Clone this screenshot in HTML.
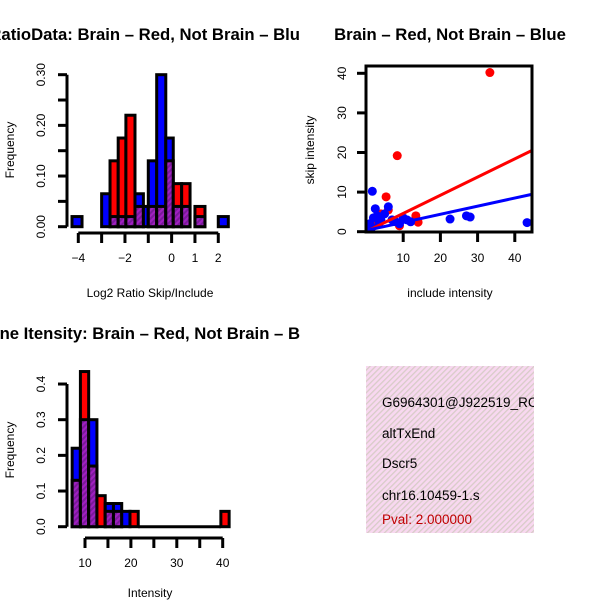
<!DOCTYPE html>
<html><head><meta charset="utf-8"><style>
html,body{margin:0;padding:0;background:#fff;}
svg{display:block;font-family:"Liberation Sans",sans-serif;}
</style></head><body>
<svg id="c" width="600" height="600" viewBox="0 0 600 600" xmlns="http://www.w3.org/2000/svg">
<defs>
<pattern id="purp" width="4" height="4" patternUnits="userSpaceOnUse" patternTransform="rotate(45)">
<rect width="4" height="4" fill="#a020c0"/><rect width="2" height="4" fill="#7a1a9a"/></pattern>
<pattern id="pink" width="4" height="4" patternUnits="userSpaceOnUse" patternTransform="rotate(45)">
<rect width="4" height="4" fill="#f8d8f0"/><rect width="1.3" height="4" fill="#d8ccc8"/></pattern>
<clipPath id="scClip"><rect x="366" y="66" width="166" height="166"/></clipPath>
<clipPath id="boxClip"><rect x="366" y="366" width="168" height="167"/></clipPath>
</defs>
<g id="p1"></g>
<g id="p2"></g>
<g id="p3"></g>
<g>
<rect x="366" y="366" width="168" height="167" fill="url(#pink)"/>
<g clip-path="url(#boxClip)" font-size="13.5">
<text x="382" y="407">G6964301@J922519_RC</text>
<text x="382" y="438">altTxEnd</text>
<text x="382" y="468">Dscr5</text>
<text x="382" y="500">chr16.10459-1.s</text>
<text x="382" y="524" fill="#c00000">Pval: 2.000000</text>
</g></g>
</svg>
<script>
// ---- Plot 1 data ----
const r1Left=[-4.27,-3.0,-2.64,-2.29,-1.96,-1.57,-1.21,-1.0,-0.64,-0.25,0.07,0.43,1.0,2.0];
const r1Right=[-3.84,-2.64,-2.29,-1.96,-1.57,-1.21,-1.0,-0.64,-0.25,0.07,0.43,0.79,1.43,2.43];
const r1Blue=[0.02,0.065,0.02,0.02,0.02,0.065,0.04,0.13,0.30,0.175,0.04,0.04,0.02,0.02];
const r1Red=[0,0,0.13,0.175,0.22,0.04,0,0.04,0.04,0.13,0.085,0.085,0.04,0];
const r1XTicks=[-4,-3,-2,-1,0,1,2];
const r1XLabels=["−4","","−2","","0","1","2"];
const r1YTicks=[0,0.05,0.10,0.15,0.20,0.25,0.30];
const r1YLabels=["0.00","","0.10","","0.20","","0.30"];
// ---- Plot 2 data ----
const redX=[33.3,8.4,5.4,13.4,14,9,4,3,6,2];
const redY=[40.2,19.2,8.8,4,2.4,1.5,4.5,3,5.5,1.5];
const blueX=[1.7,43.3,22.6,27,28,6,2.5,2,3,1,5,10,11,8,12,4,7,1.5,3.5,9];
const blueY=[10.2,2.3,3.2,4,3.7,6.3,5.8,3.5,4,2,4.5,3.5,3,2.5,2.5,3,3,1,2,2];
const redFit=[0,0.46];
const blueFit=[0.3,0.205];
const scXTicks=[10,20,30,40];
const scYTicks=[0,10,20,30,40];
// ---- Plot 3 data ----
const r3Left=[7.2,9.0,10.8,12.6,14.4,16.2,18.0,19.8,39.6];
const r3Blue=[0.22,0.30,0.30,0,0.065,0.065,0.043,0,0];
const r3Red=[0.13,0.435,0.17,0.087,0.043,0.043,0,0.043,0.043];
const r3Width=1.8;
const r3XTicks=[10,15,20,25,30,35,40];
const r3XLabels=["10","","20","","30","","40"];
const r3YTicks=[0,0.1,0.2,0.3,0.4];
const r3YLabels=["0.0","0.1","0.2","0.3","0.4"];

const NS="http://www.w3.org/2000/svg";
function mk(parent,tag,attrs,txt){const e=document.createElementNS(NS,tag);for(const k in attrs)e.setAttribute(k,attrs[k]);if(txt!==undefined)e.textContent=txt;parent.appendChild(e);return e;}

function histogram(g,left,right,blue,red,xs,ys){
  for(let i=0;i<left.length;i++){
    const x0=xs(left[i]),x1=xs(right[i]),b=blue[i],r=red[i];
    const hi=Math.max(b,r),lo=Math.min(b,r);
    const col=b>=r?"#0000ff":"#ff0000";
    const bar=mk(g,"rect",{x:x0,y:ys(hi),width:x1-x0,height:ys(0)-ys(hi),fill:col,stroke:"#000","stroke-width":3});
    
    
    if(lo>0){
      const ov=mk(g,"rect",{x:x0,y:ys(lo),width:x1-x0,height:ys(0)-ys(lo),fill:"url(#purp)",stroke:"#000","stroke-width":3});
      
      
    }
  }
}
function yAxis(g,x,ys,ticks,labels,y0,y1,lx){
  mk(g,"line",{x1:x,x2:x,y1:y0,y2:y1,stroke:"#000","stroke-width":3});
  ticks.forEach((t,i)=>{
    mk(g,"line",{x1:x-9,x2:x,y1:ys(t),y2:ys(t),stroke:"#000","stroke-width":3});
    if(labels[i]){const tx=mk(g,"text",{x:lx,y:ys(t),"font-size":12,"text-anchor":"middle",transform:`rotate(-90 ${lx} ${ys(t)})`},labels[i]);
    
    }
  });
}
function xAxis(g,y,xs,ticks,labels,ly){
  mk(g,"line",{x1:xs(ticks[0]),x2:xs(ticks[ticks.length-1]),y1:y,y2:y,stroke:"#000","stroke-width":3});
  ticks.forEach((t,i)=>{
    mk(g,"line",{x1:xs(t),x2:xs(t),y1:y,y2:y+10,stroke:"#000","stroke-width":3});
    if(labels[i]){const tx=mk(g,"text",{x:xs(t),y:ly,"font-size":12,"text-anchor":"middle"},labels[i]);
    
    }
  });
}

// Plot 1
(function(){
  const g=document.getElementById("p1");
  const xs=v=>78.3+(v+4)*23.33, ys=v=>226.7-v*506.7;
  histogram(g,r1Left,r1Right,r1Blue,r1Red,xs,ys);
  yAxis(g,67,ys,r1YTicks,r1YLabels,ys(0),ys(0.30),45);
  xAxis(g,233,xs,r1XTicks,r1XLabels,262);
  let t=mk(g,"text",{x:300,y:40,"font-size":16.7,"font-weight":"bold","text-anchor":"end"},"RatioData: Brain – Red, Not Brain – Blu");
   
  t=mk(g,"text",{x:150,y:297,"font-size":12,"text-anchor":"middle"},"Log2 Ratio Skip/Include");
   
  t=mk(g,"text",{x:14,y:150,"font-size":12,"text-anchor":"middle",transform:"rotate(-90 14 150)"},"Frequency");
   
})();

// Plot 2
(function(){
  const g=document.getElementById("p2");
  const xs=v=>366+v*3.72, ys=v=>231.7-v*3.96;
  const pg=mk(g,"g",{"clip-path":"url(#scClip)"});
  redX.forEach((x,i)=>{const c=mk(pg,"circle",{cx:xs(x),cy:ys(redY[i]),r:4.5,fill:"#ff0000"});
     });
  blueX.forEach((x,i)=>{const c=mk(pg,"circle",{cx:xs(x),cy:ys(blueY[i]),r:4.5,fill:"#0000ff"});
     });
  let l=mk(pg,"line",{x1:xs(0),y1:ys(redFit[0]),x2:xs(46),y2:ys(redFit[0]+redFit[1]*46),stroke:"#ff0000","stroke-width":3});
   
  l=mk(pg,"line",{x1:xs(0),y1:ys(blueFit[0]),x2:xs(46),y2:ys(blueFit[0]+blueFit[1]*46),stroke:"#0000ff","stroke-width":3});
   
  mk(g,"rect",{x:366,y:66,width:166,height:166,fill:"none",stroke:"#000","stroke-width":3});
  scYTicks.forEach(t=>{mk(g,"line",{x1:357,x2:366,y1:ys(t),y2:ys(t),stroke:"#000","stroke-width":3});
    const tx=mk(g,"text",{x:346,y:ys(t),"font-size":12,"text-anchor":"middle",transform:`rotate(-90 346 ${ys(t)})`},String(t));
     });
  scXTicks.forEach(t=>{mk(g,"line",{x1:xs(t),x2:xs(t),y1:232,y2:242,stroke:"#000","stroke-width":3});
    const tx=mk(g,"text",{x:xs(t),y:262,"font-size":12,"text-anchor":"middle"},String(t));
     });
  let t=mk(g,"text",{x:450,y:40,"font-size":16.7,"font-weight":"bold","text-anchor":"middle"},"Brain – Red, Not Brain – Blue");
   
  t=mk(g,"text",{x:450,y:297,"font-size":12,"text-anchor":"middle"},"include intensity");
   
  t=mk(g,"text",{x:314,y:150,"font-size":12,"text-anchor":"middle",transform:"rotate(-90 314 150)"},"skip intensity");
   
})();

// Plot 3
(function(){
  const g=document.getElementById("p3");
  const xs=v=>85+(v-10)*4.59, ys=v=>526.7-v*356.7;
  const right=r3Left.map(v=>v+r3Width);
  histogram(g,r3Left,right,r3Blue,r3Red,xs,ys);
  mk(g,"line",{x1:xs(r3Left[7]+r3Width),x2:xs(r3Left[8]),y1:ys(0),y2:ys(0),stroke:"#000","stroke-width":3});
  yAxis(g,67,ys,r3YTicks,r3YLabels,ys(0),ys(0.4),45);
  xAxis(g,538,xs,r3XTicks,r3XLabels,567);
  let t=mk(g,"text",{x:300,y:339,"font-size":16.7,"font-weight":"bold","text-anchor":"end"},"ne Itensity: Brain – Red, Not Brain – B");
   
  t=mk(g,"text",{x:150,y:597,"font-size":12,"text-anchor":"middle"},"Intensity");
   
  t=mk(g,"text",{x:14,y:450,"font-size":12,"text-anchor":"middle",transform:"rotate(-90 14 450)"},"Frequency");
   
})();
</script>
</body></html>
